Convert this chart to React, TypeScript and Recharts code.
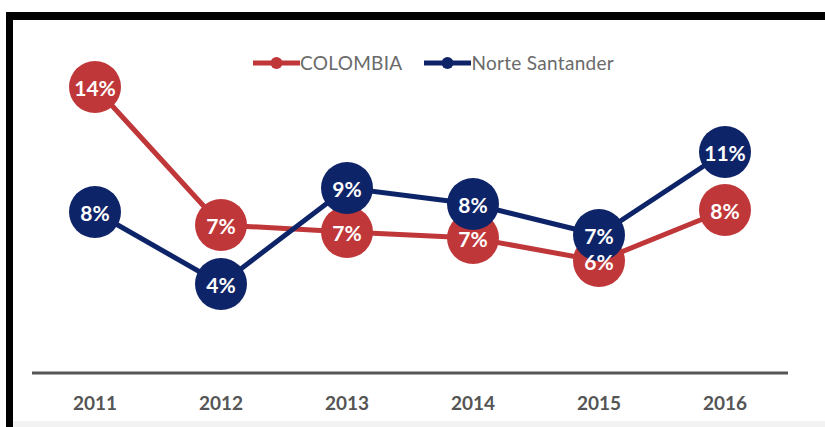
import { LineChart, Line, XAxis, YAxis, Legend, LabelList } from "recharts";

const RED = "#C0373A";
const NAVY = "#0E2468";

const YEARS = ["2011", "2012", "2013", "2014", "2015", "2016"];
const COLOMBIA = [14.3, 7.4, 7.05, 6.75, 5.6, 8.15];
const NORTE_SANTANDER = [8.05, 4.45, 9.25, 8.45, 6.9, 11.05];

const SERIES = [
  { key: "colombia", name: "COLOMBIA", color: RED },
  { key: "norte", name: "Norte Santander", color: NAVY },
];

const data = YEARS.map((year, i) => ({
  year,
  colombia: COLOMBIA[i],
  norte: NORTE_SANTANDER[i],
}));

const FONT = "Lato, 'Open Sans', sans-serif";

function bubble(color: string) {
  return (p: any) => {
    if (p.cx == null || p.cy == null) return <g key={`e-${p.index}`} />;
    return <circle key={`b-${p.index}`} cx={p.cx} cy={p.cy} r={26} fill={color} />;
  };
}

function PctLabel(props: any) {
  const x = props.x ?? props.viewBox?.x;
  const y = props.y ?? props.viewBox?.y;
  if (x == null || y == null) return null;
  return (
    <text
      x={x}
      y={y}
      textAnchor="middle"
      dominantBaseline="central"
      fill="#fff"
      fontSize={21}
      fontWeight={700}
      fontFamily={FONT}
    >
      {Math.round(props.value)}%
    </text>
  );
}

function LegendRow() {
  return (
    <div style={{ display: "flex", alignItems: "center", fontFamily: FONT, fontSize: 19, color: "#6a6a6a", lineHeight: "22px", letterSpacing: 0.3 }}>
      {SERIES.map((s, i) => (
        <div key={s.key} style={{ display: "flex", alignItems: "center", marginRight: i === 0 ? 22 : 0 }}>
          <svg width={47} height={14}>
            <line x1={0} x2={47} y1={7} y2={7} stroke={s.color} strokeWidth={5} />
            <circle cx={23.5} cy={7} r={6} fill={s.color} />
          </svg>
          <span>{s.name}</span>
        </div>
      ))}
    </div>
  );
}

export default function App() {
  return (
    <div style={{ position: "absolute", left: 0, top: 0, width: 825, height: 427, background: "#fff" }}>
      <div
        style={{
          position: "absolute",
          left: 6,
          top: 12,
          width: 819,
          height: 415,
          boxSizing: "border-box",
          borderTop: "8px solid #000",
          borderLeft: "7px solid #000",
        }}
      />
      <div style={{ position: "absolute", left: 13, top: 421, width: 812, height: 6, background: "#f2f2f2" }} />
      <div style={{ position: "absolute", left: 0, top: 0 }}>
        <LineChart width={825} height={427} data={data} margin={{ top: 53, right: 37, bottom: 14, left: 32 }}>
          <XAxis
            dataKey="year"
            padding={{ left: 63, right: 63 }}
            height={40}
            tickLine={false}
            tickSize={0}
            tickMargin={24}
            axisLine={{ stroke: "#555", strokeWidth: 3 }}
            tick={{ fill: "#555", fontSize: 19, fontWeight: 700, fontFamily: FONT }}
          />
          <YAxis hide domain={[0, 16]} />
          <Legend
            layout="horizontal"
            verticalAlign="middle"
            align="center"
            wrapperStyle={{ top: 52, left: 253, width: "auto" }}
            content={() => <LegendRow />}
          />
          {SERIES.map((s) => (
            <Line
              key={s.key}
              dataKey={s.key}
              name={s.name}
              stroke={s.color}
              strokeWidth={5}
              dot={bubble(s.color)}
              activeDot={false}
              isAnimationActive={false}
            />
          ))}
          {SERIES.map((s) => (
            <Line
              key={`${s.key}-labels`}
              dataKey={s.key}
              stroke="none"
              dot={false}
              activeDot={false}
              legendType="none"
              isAnimationActive={false}
            >
              <LabelList dataKey={s.key} content={PctLabel} />
            </Line>
          ))}
        </LineChart>
      </div>
    </div>
  );
}
